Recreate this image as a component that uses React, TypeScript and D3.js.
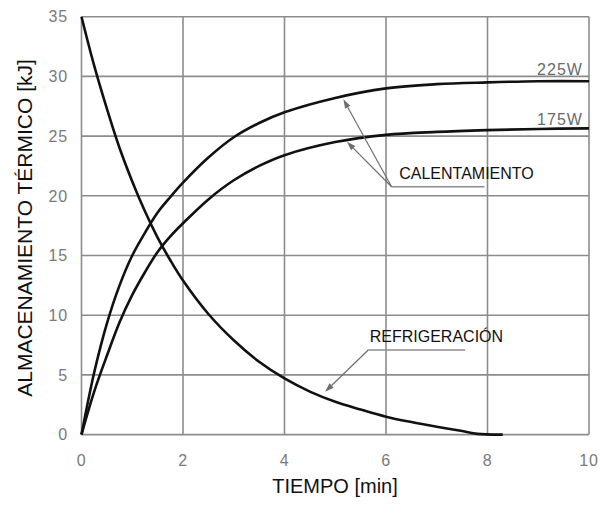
import React from "react";
import * as d3 from "d3";

// Time axis (min)
const xTicks = [0, 2, 4, 6, 8, 10];
const yTicks = [0, 5, 10, 15, 20, 25, 30, 35];

// Heating at 225 W
const t225 = [0, 0.25, 0.5, 0.75, 1, 1.25, 1.5, 1.75, 2, 2.5, 3, 3.5, 4, 5, 6, 7, 8, 9, 10];
const v225 = [0, 5.2, 9.3, 12.5, 15.0, 16.9, 18.6, 19.9, 21.1, 23.2, 24.9, 26.1, 27.0, 28.2, 29.0, 29.35, 29.5, 29.6, 29.6];

// Heating at 175 W
const t175 = [0, 0.25, 0.5, 0.75, 1, 1.25, 1.5, 1.75, 2, 2.5, 3, 3.5, 4, 5, 6, 7, 8, 9, 10];
const v175 = [0, 3.6, 6.6, 9.4, 11.7, 13.6, 15.3, 16.6, 17.7, 19.7, 21.3, 22.5, 23.4, 24.5, 25.1, 25.35, 25.5, 25.6, 25.65];

// Cooling
const tRef = [0, 0.25, 0.5, 0.75, 1, 1.25, 1.5, 1.75, 2, 2.5, 3, 3.5, 4, 4.5, 5, 5.5, 6, 6.5, 7, 7.5, 7.8, 8.3];
const vRef = [35, 30.9, 27.3, 24.0, 21.2, 18.7, 16.5, 14.6, 12.9, 10.1, 7.9, 6.1, 4.7, 3.6, 2.75, 2.1, 1.5, 1.05, 0.66, 0.3, 0.06, 0];

// Annotations (data coordinates)
const labelText = ["225W", "175W", "CALENTAMIENTO", "REFRIGERACIÓN"];
const labelX = [9.88, 9.88, 6.26, 5.68];
const labelY = [30.1, 25.9, 21.4, 7.78];
const calVertex: [number, number] = [6.11, 20.76];
const calEnd: [number, number] = [7.94, 20.76];
const calTips: [number, number][] = [[5.16, 28.08], [5.23, 24.53]];
const refTip: [number, number] = [4.8, 3.59];
const refElbow: [number, number] = [5.65, 7.09];
const refEnd: [number, number] = [7.56, 7.09];

const FONT = "'Liberation Sans', Arial, Helvetica, sans-serif";

export default function App() {
  const x = d3.scaleLinear().domain([0, 10]).range([81.5, 589]);
  const y = d3.scaleLinear().domain([0, 35]).range([434.6, 16.7]);
  const line = d3
    .line<[number, number]>()
    .x((d) => x(d[0]))
    .y((d) => y(d[1]))
    .curve(d3.curveCatmullRom.alpha(0.5));
  const series = [
    t225.map((t, i) => [t, v225[i]] as [number, number]),
    t175.map((t, i) => [t, v175[i]] as [number, number]),
    tRef.map((t, i) => [t, vRef[i]] as [number, number]),
  ];
  const gray = "#8c8c8c";
  const annot = "#6e6e6e";

  const arrow = (from: [number, number], to: [number, number], key: string) => {
    const x1 = x(from[0]), y1 = y(from[1]), x2 = x(to[0]), y2 = y(to[1]);
    const ang = Math.atan2(y2 - y1, x2 - x1);
    const L = 9, W = 3;
    const bx = x2 - L * Math.cos(ang), by = y2 - L * Math.sin(ang);
    const px = -Math.sin(ang) * W, py = Math.cos(ang) * W;
    return (
      <g key={key}>
        <line x1={x1} y1={y1} x2={bx} y2={by} stroke={annot} strokeWidth={1.2} />
        <path d={`M${x2},${y2}L${bx + px},${by + py}L${bx - px},${by - py}Z`} fill={annot} />
      </g>
    );
  };

  return (
    <svg
      width={600}
      height={505}
      style={{ position: "absolute", left: 0, top: 0, background: "#fff" }}
      fontFamily={FONT}
    >
      <rect width={600} height={505} fill="#fff" />
      {/* grid */}
      {xTicks.map((t) => (
        <line key={"gx" + t} x1={x(t)} x2={x(t)} y1={y(0)} y2={y(35)} stroke={gray} strokeWidth={1.6} />
      ))}
      {yTicks.map((t) => (
        <line key={"gy" + t} x1={x(0)} x2={x(10)} y1={y(t)} y2={y(t)} stroke={gray} strokeWidth={1.6} />
      ))}
      {/* tick labels */}
      {xTicks.map((t) => (
        <text key={"tx" + t} x={x(t)} y={466} textAnchor="middle" fontSize={16} fill="#7a7a7a" letterSpacing={0.8}>
          {t}
        </text>
      ))}
      {yTicks.map((t) => (
        <text key={"ty" + t} x={68} y={y(t)} dy="0.36em" textAnchor="end" fontSize={16} fill="#7a7a7a" letterSpacing={0.8}>
          {t}
        </text>
      ))}
      {/* axis titles */}
      <text x={335} y={493} textAnchor="middle" fontSize={20} fill="#111">
        TIEMPO [min]
      </text>
      <text transform={`translate(32,228) rotate(-90)`} textAnchor="middle" fontSize={21} fill="#111">
        ALMACENAMIENTO TÉRMICO [kJ]
      </text>
      {/* curves */}
      {series.map((s, i) => (
        <path key={"s" + i} d={line(s) || ""} fill="none" stroke="#111" strokeWidth={2.6} />
      ))}
      {/* annotations */}
      <line x1={x(calVertex[0])} y1={y(calVertex[1])} x2={x(calEnd[0])} y2={y(calEnd[1])} stroke={gray} strokeWidth={1.4} />
      {calTips.map((tip, i) => arrow(calVertex, tip, "ca" + i))}
      <line x1={x(refElbow[0])} y1={y(refElbow[1])} x2={x(refEnd[0])} y2={y(refEnd[1])} stroke={gray} strokeWidth={1.4} />
      {arrow(refElbow, refTip, "ra")}
      {labelText.map((s, i) => (
        <text
          key={"l" + i}
          x={x(labelX[i])}
          y={y(labelY[i])}
          textAnchor={i < 2 ? "end" : "start"}
          fontSize={16}
          fill={i < 2 ? "#6a6a6a" : "#111"}
          letterSpacing={i < 2 ? 1 : 0}
        >
          {s}
        </text>
      ))}
    </svg>
  );
}
